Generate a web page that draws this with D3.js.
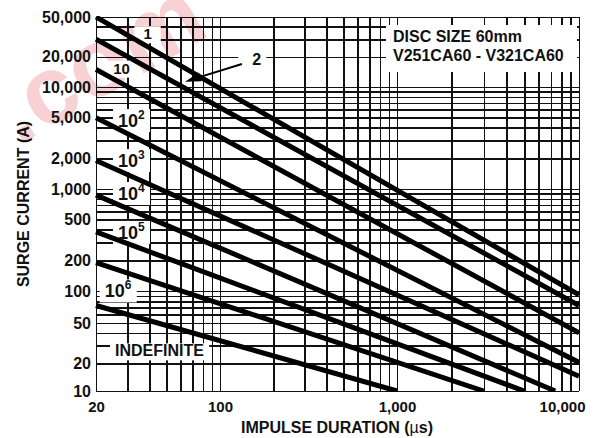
<!DOCTYPE html>
<html>
<head>
<meta charset="utf-8">
<script src="https://cdn.jsdelivr.net/npm/d3@7"></script>
<style>
  body { margin: 0; background: #fff; }
  text { font-family: "Liberation Sans", Arial, Helvetica, sans-serif; font-weight: bold; fill: #111; }
  .grid line { stroke: #111; stroke-width: 1.6; shape-rendering: crispEdges; }
  .grid path { display: none; }
</style>
</head>
<body>
<svg id="chart" width="596" height="438"></svg>
<script>

////////////////////////////////////////////////////////////
// Data (number of pulses)
////////////////////////////////////////////////////////////

var curveNames    = ["1", "2", "10", "10^2", "10^3", "10^4", "10^5", "10^6", "INDEFINITE"];
var startDuration = [20, 20, 20, 20, 20, 20, 20, 20, 20];                     // us
var startCurrent  = [50000, 30000, 15000, 5000, 1900, 870, 380, 190, 73];     // A
var endDuration   = [10000, 10000, 10000, 10000, 10000, 7400, 5000, 3000, 1000];
var endCurrent    = [92, 73, 40, 20.5, 14.5, 10, 10, 10, 10];

// where each curve label sits (duration, current) - left/baseline of the text
var labelDuration = [37, 152, 25, 26.6, 26.6, 26.6, 26.6, 22.4, 25.6];
var labelCurrent  = [30000, 16600, 13600, 4050, 1640, 780, 324, 87, 23.5];

var xTicks = [20, 100, 1000, 10000];
var yTicks = [10, 20, 50, 100, 200, 500, 1000, 2000, 5000, 10000, 20000, 50000];

var legendLines = ["DISC SIZE 60mm", "V251CA60 - V321CA60"];

////////////////////////////////////////////////////////////
// Scales (the scan is not perfectly uniform, so use breakpoints)
////////////////////////////////////////////////////////////

var svg = d3.select("#chart");

var x = d3.scaleLog()
          .domain([20, 100, 1000, 10000])
          .range([96, 220, 397, 579]);

var y = d3.scaleLog()
          .domain([10, 20, 50, 100, 1000, 10000, 50000])
          .range([391, 363.5, 323, 291, 189, 87, 17]);

var pLeft = x(20), pRight = x(10000), pTop = y(50000), pBottom = y(10);

// watermark from the scanned page
svg.append("text")
   .attr("transform", "translate(18,146) rotate(-30)")
   .style("font-size", "96px")
   .style("fill", "#e0444c")
   .style("opacity", 0.24)
   .text(".com");

// grid lines, every 1..9 in each decade
svg.append("g")
   .attr("class", "grid")
   .attr("transform", "translate(0," + pBottom + ")")
   .call(d3.axisBottom(x)
           .tickValues(x.ticks())
           .tickSize(-(pBottom - pTop))
           .tickFormat(""));

svg.append("g")
   .attr("class", "grid")
   .attr("transform", "translate(" + pLeft + ",0)")
   .call(d3.axisLeft(y)
           .tickValues(y.ticks())
           .tickSize(-(pRight - pLeft))
           .tickFormat(""));

// label text (built first so the white boxes can be measured)
var labels = svg.append("g");
curveNames.forEach(function(name, i) {
    var t = labels.append("text")
                  .attr("x", x(labelDuration[i]))
                  .attr("y", y(labelCurrent[i]));
    if (name.indexOf("^") > 0) {
        var parts = name.split("^");
        t.style("font-size", "18px");
        t.append("tspan").text(parts[0]);
        t.append("tspan").attr("dy", -8).style("font-size", "12px").text(parts[1]);
    } else if (name == "1") {
        t.style("font-size", "15px").text(name);
    } else if (name == "10") {
        t.style("font-size", "15px").text(name);
    } else {
        t.style("font-size", "16px").text(name);
    }
});

// white boxes behind labels (hide the grid)
var boxes = svg.insert("g", function() { return labels.node(); });
labels.selectAll("text").each(function(d, i) {
    var b = this.getBBox();
    var padL = curveNames[i] == "2" ? 14 : (curveNames[i] == "1" ? 9 : 5);
    var padR = curveNames[i] == "1" ? 9 : 5;
    boxes.append("rect")
         .attr("x", b.x - padL)
         .attr("y", b.y + 1)
         .attr("width", b.width + padL + padR)
         .attr("height", b.height)
         .attr("fill", "#fff");
});

// legend box
var legend = svg.append("g");
legend.append("rect")
      .attr("x", 386).attr("y", pTop + 8)
      .attr("width", pRight - 2 - 386).attr("height", 47)
      .attr("fill", "#fff");
legendLines.forEach(function(s, i) {
    legend.append("text")
          .attr("x", 393)
          .attr("y", pTop + 25 + i * 18.5)
          .style("font-size", "16px")
          .text(s);
});

// curves
svg.append("clipPath").attr("id", "plotClip")
   .append("rect")
   .attr("x", pLeft - 1).attr("y", pTop - 1)
   .attr("width", pRight - pLeft + 2).attr("height", pBottom - pTop + 2);

var line = d3.line()
             .x(function(d) { return x(d[0]); })
             .y(function(d) { return y(d[1]); });

var curves = svg.append("g").attr("clip-path", "url(#plotClip)");
curveNames.forEach(function(name, i) {
    curves.append("path")
          .datum([[startDuration[i], startCurrent[i]], [endDuration[i], endCurrent[i]]])
          .attr("d", line)
          .attr("fill", "none")
          .attr("stroke", "#000")
          .attr("stroke-width", 5);
});

svg.node().appendChild(labels.node());

// arrow from label "2" to its curve
var tail = [x(133), y(17000)], tip = [x(63.5), y(11300)];
var ang = Math.atan2(tip[1] - tail[1], tip[0] - tail[0]);
var headLen = 16, headW = 4.5;
var base = [tip[0] - headLen * Math.cos(ang), tip[1] - headLen * Math.sin(ang)];
svg.append("line")
   .attr("x1", tail[0]).attr("y1", tail[1])
   .attr("x2", base[0]).attr("y2", base[1])
   .attr("stroke", "#000").attr("stroke-width", 2);
svg.append("path")
   .attr("d", "M" + tip[0] + "," + tip[1] +
              "L" + (base[0] + headW * Math.sin(ang)) + "," + (base[1] - headW * Math.cos(ang)) +
              "L" + (base[0] - headW * Math.sin(ang)) + "," + (base[1] + headW * Math.cos(ang)) + "Z")
   .attr("fill", "#000");

// axes labels
var fmt = d3.format(",");

var xAxis = svg.append("g")
   .attr("transform", "translate(0," + pBottom + ")")
   .call(d3.axisBottom(x).tickValues(xTicks).tickSize(0).tickPadding(10).tickFormat(fmt));
xAxis.select(".domain").remove();
xAxis.selectAll("text").style("font-size", "15px").attr("fill", "#111");
xAxis.selectAll("text").filter(function(d) { return d == 10000; })
     .attr("text-anchor", "end").attr("x", 6);

var yAxis = svg.append("g")
   .attr("transform", "translate(" + pLeft + ",0)")
   .call(d3.axisLeft(y).tickValues(yTicks).tickSize(0).tickPadding(5).tickFormat(fmt));
yAxis.select(".domain").remove();
yAxis.selectAll("text").style("font-size", "16px").attr("fill", "#111");

svg.append("text")
   .attr("transform", "translate(29," + ((pTop + pBottom) / 2) + ") rotate(-90)")
   .attr("text-anchor", "middle")
   .style("font-size", "16px")
   .text("SURGE CURRENT (A)");

var xt = svg.append("text")
   .attr("x", 337).attr("y", 433)
   .attr("text-anchor", "middle")
   .style("font-size", "16px");
xt.append("tspan").text("IMPULSE DURATION (");
xt.append("tspan").style("font-weight", "normal").text("\u00b5");
xt.append("tspan").text("s)");

</script>
</body>
</html>
